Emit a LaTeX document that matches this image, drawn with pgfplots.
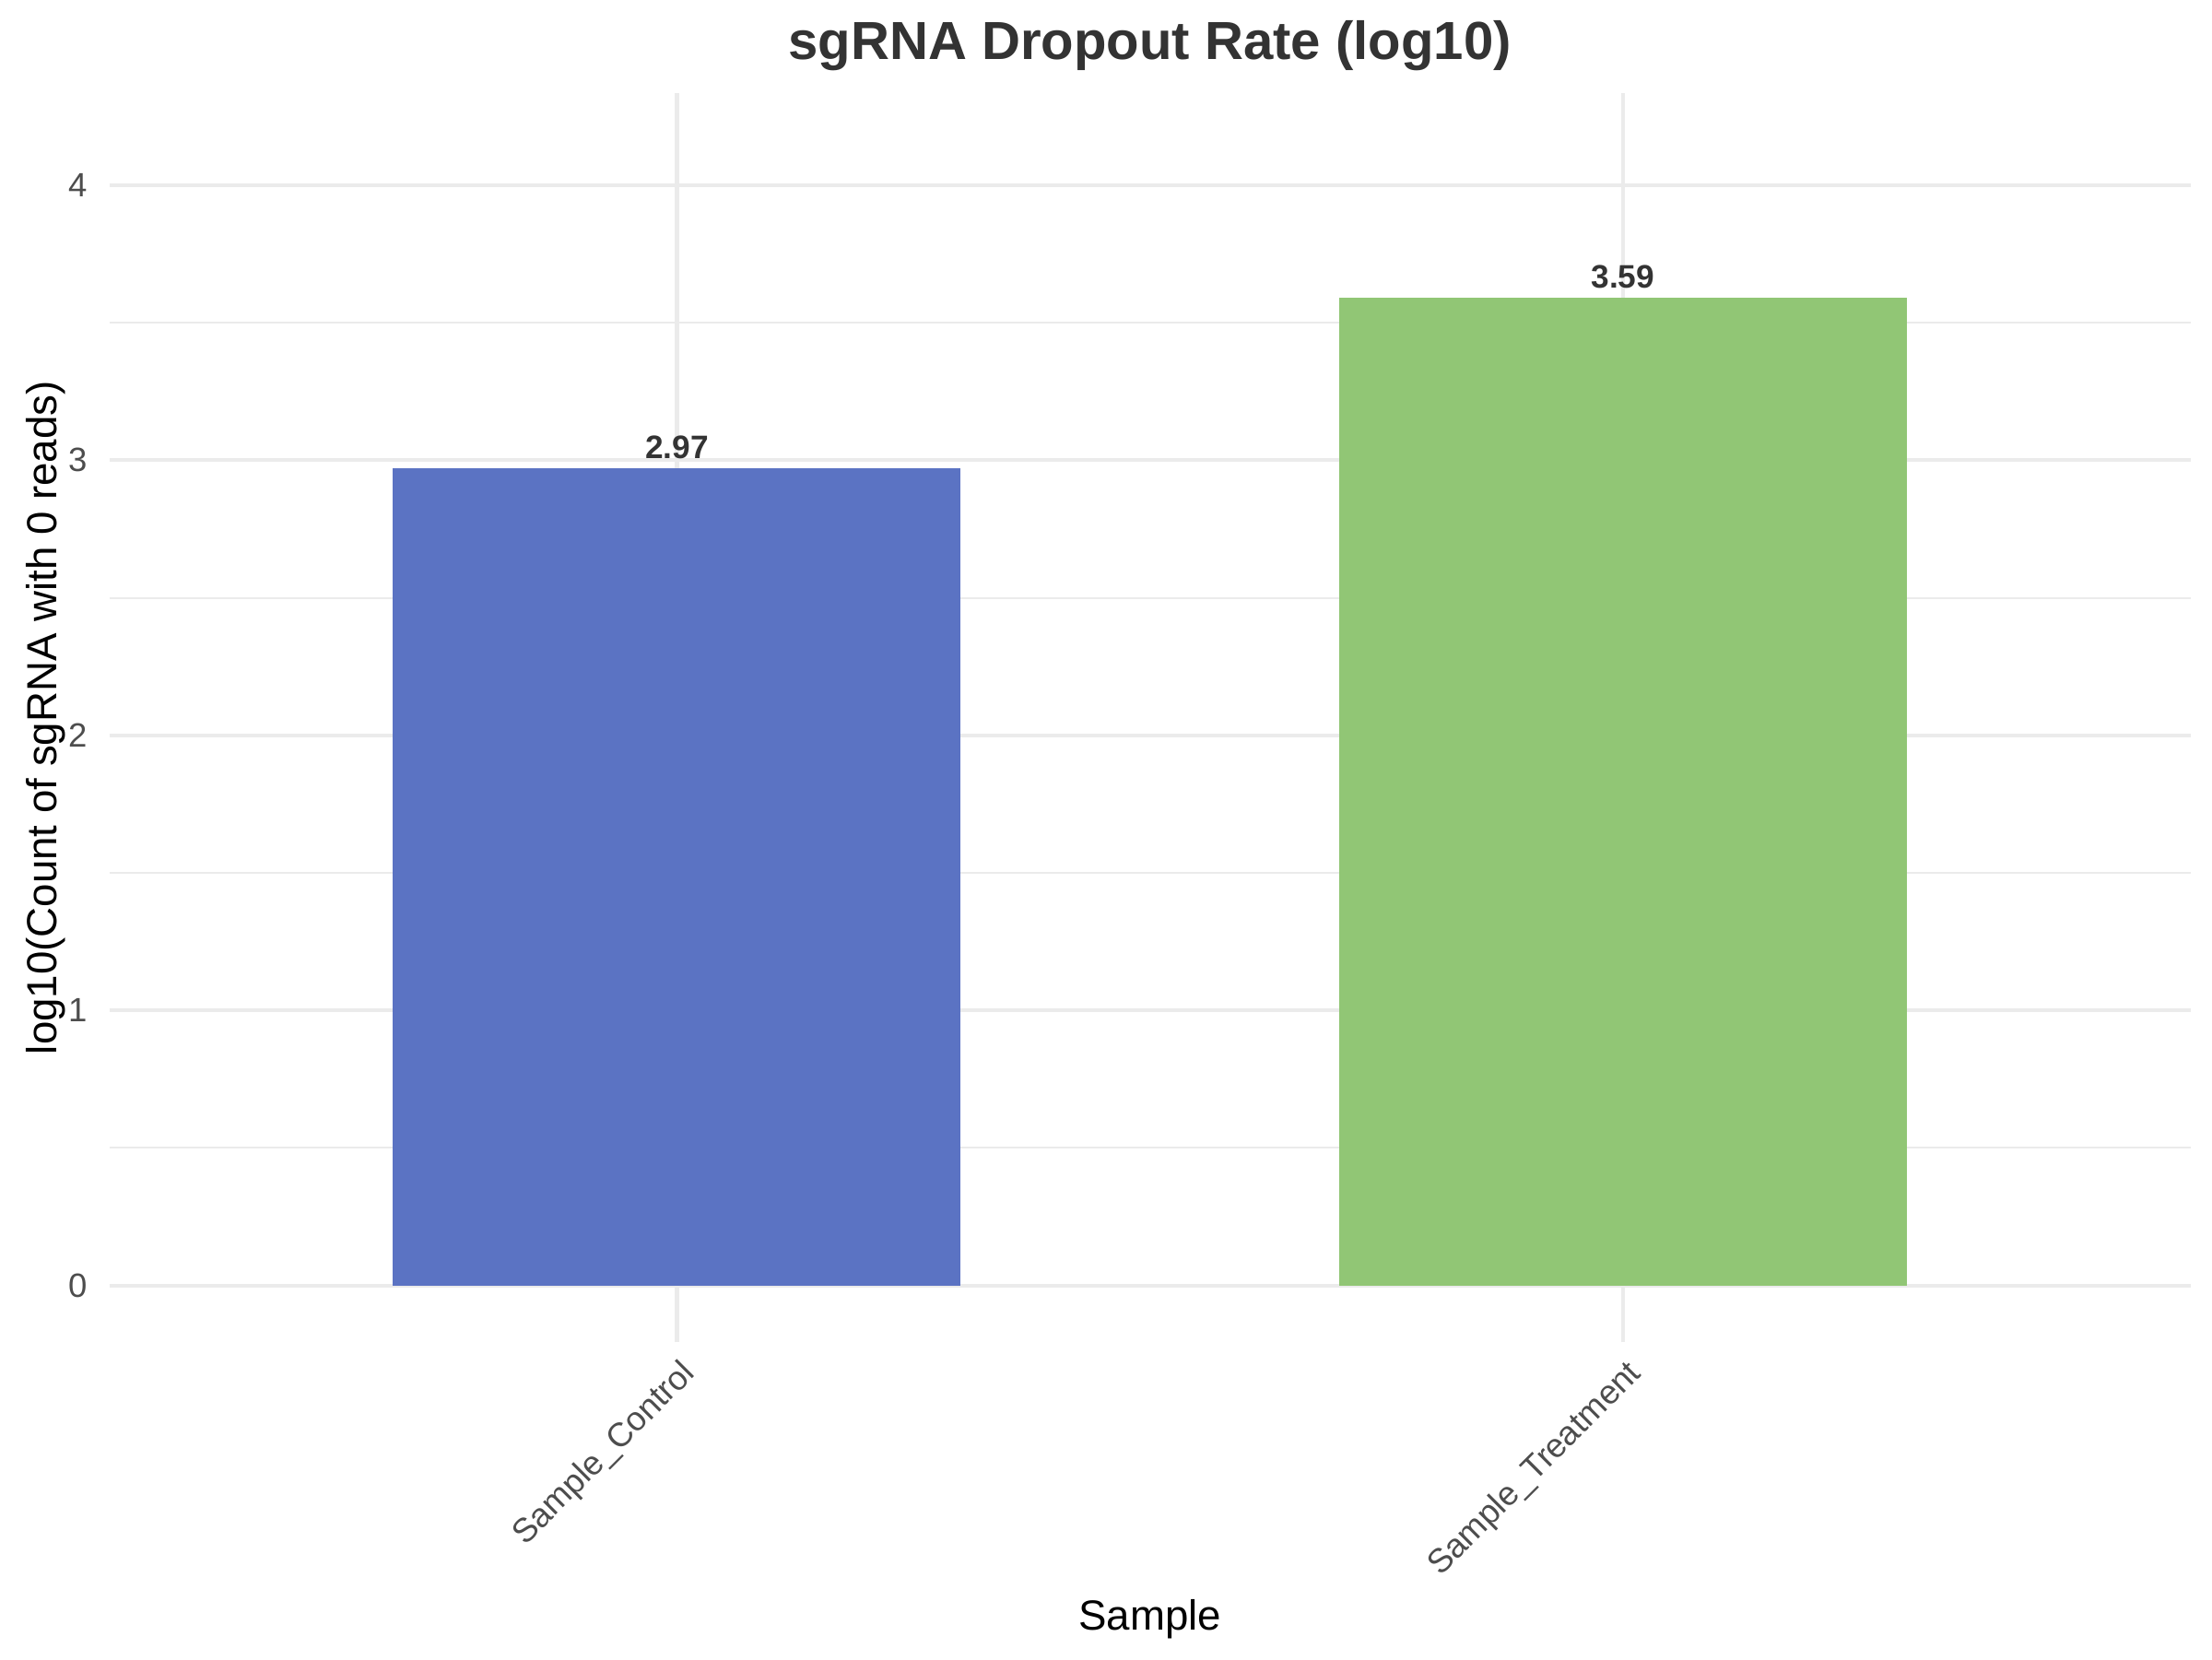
\documentclass[border=0pt]{standalone}
\usepackage{fontspec}
\setmainfont{Liberation Sans}
\usepackage{pgfplots}
\pgfplotsset{compat=1.18}
\definecolor{gridc}{HTML}{EBEBEB}
\definecolor{tickc}{HTML}{4D4D4D}
\definecolor{titc}{HTML}{333333}
\definecolor{barblue}{HTML}{5B73C3}
\definecolor{bargreen}{HTML}{91C675}
\begin{document}
\begin{tikzpicture}
\path[use as bounding box] (0,0) rectangle (578.16pt,433.62pt);
\begin{axis}[
  at={(28.56pt,82.8pt)}, anchor=south west,
  scale only axis, width=544pt, height=326.5pt,
  xmin=0.4, xmax=2.6, ymin=-0.2065, ymax=4.335,
  xtick={1,2}, xticklabels={Sample\_Control,Sample\_Treatment},
  ytick={0,1,2,3,4}, minor ytick={0.5,1.5,2.5,3.5},
  yticklabel={\pgfmathprintnumber[fixed,precision=0]{\tick}},
  /pgf/number format/assume math mode=true,
  xmajorgrids, ymajorgrids, yminorgrids,
  major grid style={draw=gridc, line width=1pt},
  minor grid style={draw=gridc, line width=0.5pt},
  axis line style={draw=none},
  major tick length=0pt, minor tick length=0pt,
  tick style={draw=none},
  ticklabel style={font=\fontsize{8.8}{10}\selectfont, text=tickc},
  yticklabel style={xshift=-2.3pt},
  xticklabel style={rotate=45, anchor=north east, inner sep=2.3pt, yshift=-0.8pt},
  title={sgRNA Dropout Rate (log10)},
  title style={font=\bfseries\fontsize{14}{16}\selectfont, text=titc, anchor=base, at={(0.5,1)}, yshift=2.8pt},
  xlabel={Sample},
  ylabel={log10(Count of sgRNA with 0 reads)},
  label style={font=\fontsize{11}{13}\selectfont, text=black},
  xlabel style={at={(axis description cs:0.5,0)}, anchor=center, yshift=-72.3pt},
  ylabel style={at={(axis description cs:0,0.5)}, anchor=center, yshift=16.5pt},
  nodes near coords={\pgfmathprintnumber[fixed,precision=2,fixed zerofill]{\pgfplotspointmeta}},
  nodes near coords style={font=\bfseries\fontsize{8.5}{10}\selectfont, text=titc, anchor=base, yshift=2.7pt},
]
\addplot[ybar, bar width=0.6, bar shift=0pt, fill=barblue, draw=none] coordinates {(1,2.97)};
\addplot[ybar, bar width=0.6, bar shift=0pt, fill=bargreen, draw=none] coordinates {(2,3.59)};
\end{axis}
\end{tikzpicture}
\end{document}
